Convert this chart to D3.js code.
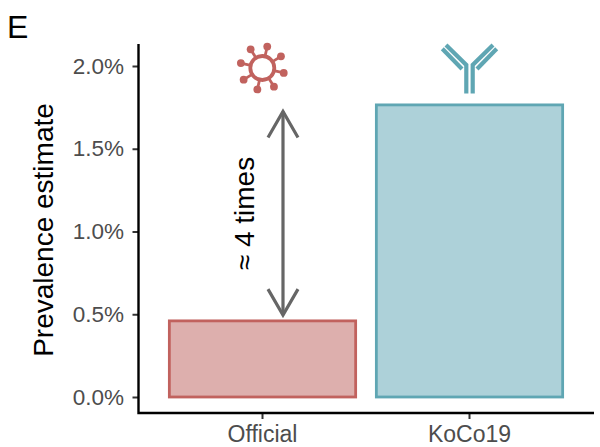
<!DOCTYPE html>
<html><head><meta charset="utf-8">
<script src="https://cdn.jsdelivr.net/npm/d3@7"></script>
<style>html,body{margin:0;padding:0;background:#fff}svg{display:block}text{font-family:"Liberation Sans",Arial,sans-serif}</style>
</head><body><svg id="c" width="600" height="447"></svg>
<script>
const categories = ["Official", "KoCo19"];
const prevalence = [0.46, 1.765];
const yTicks = [0, 0.5, 1.0, 1.5, 2.0];
const fills = ["#DDAFAD", "#ADD1D9"];
const strokes = ["#C1625E", "#5FA6B3"];
const arrowRange = [0.495, 1.725];
const spikeAngles = [-77, -32, 13, 58, 103, 148, 193, 238];

const svg = d3.select("#c");
const x = d3.scaleBand().domain(categories).range([159, 573]).paddingInner(0.1).paddingOuter(0.05);
const y = d3.scaleLinear().domain([0, 2]).range([397, 66]);
const axisX = 138.5, axisY = 413, axisEnd = 594;
const bottom = svg.append("g").attr("transform", `translate(0,${axisY})`)
  .call(d3.axisBottom(x).tickSize(6).tickPadding(5));
const left = svg.append("g").attr("transform", `translate(${axisX},0)`)
  .call(d3.axisLeft(y).tickValues(yTicks).tickFormat(d => d.toFixed(1) + "%").tickSize(6).tickPadding(8.5));
[bottom, left].forEach(g => {
  g.selectAll(".domain").remove();
  g.selectAll(".tick line").attr("stroke", "#333").attr("stroke-width", 2);
  g.selectAll("text").attr("fill", "#4D4D4D");
});
left.selectAll("text").style("font-size", "22.5px");
bottom.selectAll("text").style("font-size", "23px").attr("dy", "0.78em");
svg.append("path").attr("d", `M${axisX},44V${axisY}H${axisEnd}`).attr("fill", "none")
  .attr("stroke", "#000").attr("stroke-width", 2.4);

svg.selectAll("rect.bar").data(categories).join("rect").attr("class", "bar")
  .attr("x", d => x(d)).attr("width", x.bandwidth())
  .attr("y", (d, i) => y(prevalence[i])).attr("height", (d, i) => y(0) - y(prevalence[i]))
  .attr("fill", (d, i) => fills[i]).attr("stroke", (d, i) => strokes[i]).attr("stroke-width", 2.8);

// arrow
const ax = x("Official") + x.bandwidth() * 0.61;
const ag = svg.append("g").attr("fill", "none").attr("stroke", "#666").attr("stroke-width", 3.2);
ag.append("line").attr("x1", ax).attr("x2", ax).attr("y1", y(arrowRange[0])).attr("y2", y(arrowRange[1]));
[[arrowRange[1], 1], [arrowRange[0], -1]].forEach(([v, s]) => {
  ag.append("path").attr("d", `M${ax - 15},${y(v) + s * 26}L${ax},${y(v)}L${ax + 15},${y(v) + s * 26}`);
});
svg.append("text").attr("transform", `translate(254,213.5) rotate(-90)`).attr("text-anchor", "middle")
  .style("font-size", "28px").attr("fill", "#000").text("≈ 4 times");

svg.append("text").attr("transform", "translate(53,230) rotate(-90)").attr("text-anchor", "middle")
  .style("font-size", "28px").attr("fill", "#000").text("Prevalence estimate");
svg.append("text").attr("x", 7).attr("y", 38).style("font-size", "32px").attr("fill", "#000").text("E");

// virus icon
const vc = [x("Official") + x.bandwidth() / 2 - 0.2, 68];
const virus = svg.append("g").attr("transform", `translate(${vc})`).attr("fill", strokes[0]).attr("stroke", strokes[0]);
virus.append("circle").attr("r", 12).attr("fill", "none").attr("stroke-width", 3.8);
spikeAngles.forEach(a => {
  const r = a * Math.PI / 180, c = Math.cos(r), s = Math.sin(r);
  virus.append("line").attr("x1", 13 * c).attr("y1", 13 * s).attr("x2", 21 * c).attr("y2", 21 * s).attr("stroke-width", 2.8);
  virus.append("circle").attr("cx", 22 * c).attr("cy", 22 * s).attr("r", 3.9).attr("stroke", "none");
});

// antibody icon
const abx = x("KoCo19") + x.bandwidth() / 2;
const ab = svg.append("g").attr("transform", `translate(${abx},0)`).attr("stroke", strokes[1]).attr("stroke-width", 4.2).attr("fill", "none");
[-1, 1].forEach(s => {
  ab.append("path").attr("d", `M${s * 3.2},93.5V65L${s * 23.5},45`);
  ab.append("line").attr("x1", s * 7.5).attr("y1", 69).attr("x2", s * 27.2).attr("y2", 48.8);
});
</script></body></html>
